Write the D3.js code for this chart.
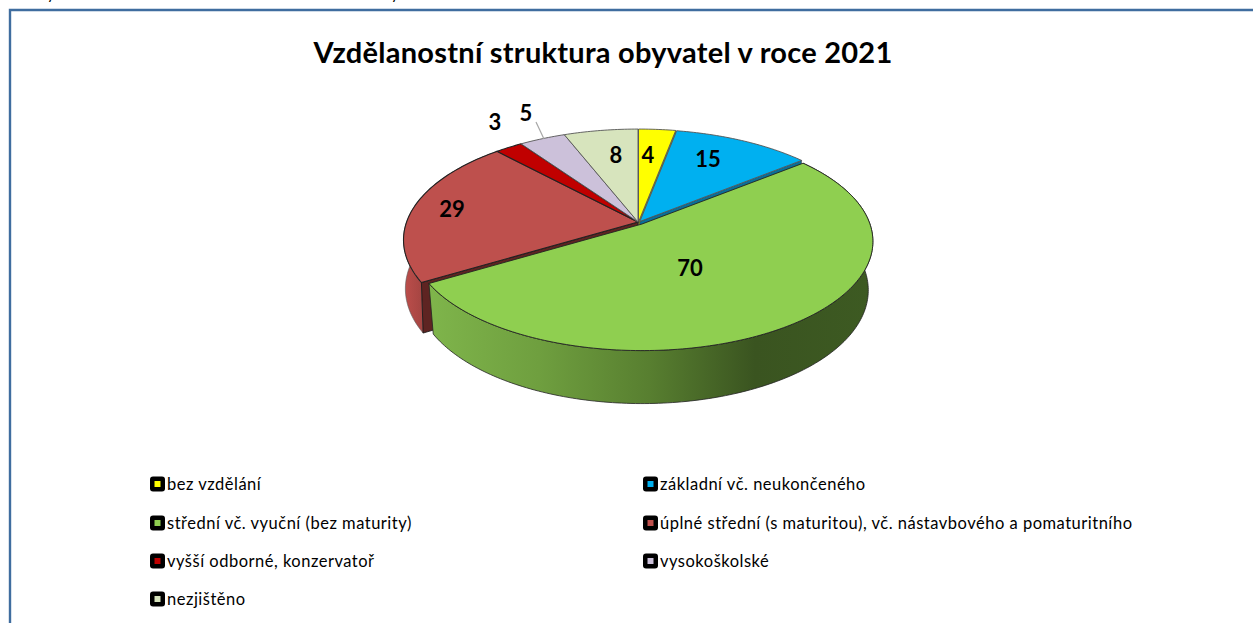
<!DOCTYPE html>
<html><head><meta charset="utf-8">
<script src="https://cdn.jsdelivr.net/npm/d3@7"></script>
<style>html,body{margin:0;padding:0;background:#fff;overflow:hidden}svg{display:block}text{font-family:Lato,sans-serif;fill:#000}</style>
</head><body><svg id="c" width="1253" height="623"></svg>
<script>
const categories = ["bez vzdělání","základní vč. neukončeného","střední vč. vyuční (bez maturity)","úplné střední (s maturitou), vč. nástavbového a pomaturitního","vyšší odborné, konzervatoř","vysokoškolské","nezjištěno"];
const values = [4,15,70,29,3,5,8];
const colors = ["#ffff00","#00b0f0","#8fcf50","#be504d","#c00000","#ccc1da","#d7e4bd"];
const wallColors = ["#a8a800","#0a6f98","#3a5420","#5e2422","#7a0000","#8a8096","#eef2e0"];
const title = "Vzdělanostní struktura obyvatel v roce 2021";

const svg = d3.select("#c");
const defs = svg.append("defs");
const W = 1253, H = 623;

// frame
svg.append("path").attr("d",`M10 ${H} V10 H${W}`).attr("fill","none").attr("stroke","#3f6d9f").attr("stroke-width",2.4);
// cropped line above the frame: only descenders remain
svg.append("text").attr("x",47).attr("y",-1).attr("font-size",15).text("y");
svg.append("text").attr("x",391).attr("y",-1).attr("font-size",15).text("y");

svg.append("text").attr("x",603).attr("y",63).attr("text-anchor","middle").attr("font-size",29).attr("letter-spacing",0.25).attr("font-weight",700).text(title);

// projection of the disc
const cx=638, cy=222, A=231.4, B=108, p=0.162;
const explode = [[0.5,0,1],[1.8,-0.5,0.99],[4,2,0.985],[0,0,1],[0,0,1],[0,0,1],[0,0,1]];
const lowScale = [0.98,0.98,0.98,0.992,0.98,0.98,0.98];
function proj(t,r,i){
  const [dx,dy,s]=explode[i];
  const u=Math.sin(t)*r*s, v=Math.cos(t)*r*s, d=1+p*v;
  return [cx+dx+A*u/d, cy+dy-B*v/d];
}
function low(t,r,i){
  const q=proj(t,r,i), v=Math.cos(t)*r;
  const cxb=cx+explode[i][0]+1;
  return [cxb+(q[0]-cxb)*lowScale[i], q[1]+48-5*v];
}
const pie = d3.pie().sort(null).startAngle(0).endAngle(2*Math.PI).value(d=>d);
const arcs = pie(values);
const line = d3.line();
const sweep=(a,b,f,i)=>{const n=Math.max(2,Math.ceil(Math.abs(b-a)*180/Math.PI));return d3.range(n+1).map(k=>f(a+(b-a)*k/n,1,i));};
const topPath = (d,i)=> "M"+proj(0,0,i)+"L"+sweep(d.startAngle,d.endAngle,proj,i).join("L")+"Z";
const wallPath = (a,b,i)=> line(sweep(a,b,proj,i).concat(sweep(b,a,low,i)))+"Z";
const radial = (t,i)=> line([proj(t,0,i),proj(t,1,i),low(t,1,i),low(t,0,i)])+"Z";

function grad(id,x1,x2,stops){
  const g=defs.append("linearGradient").attr("id",id).attr("gradientUnits","userSpaceOnUse").attr("x1",x1).attr("x2",x2).attr("y1",0).attr("y2",0);
  stops.forEach(s=>g.append("stop").attr("offset",s[0]).attr("stop-color",s[1]));
}
grad("gs",428,870,[[0,"#7fb54b"],[0.25,"#6f9f3f"],[0.5,"#587f30"],[0.74,"#3a5420"],[1,"#3d5a22"]]);
grad("rs",404,432,[[0,"#bd4e4b"],[1,"#98403d"]]);

const G=2,R=3;
svg.append("path").attr("d",wallPath(arcs[R].startAngle,arcs[R].endAngle,R)).attr("fill","url(#rs)").attr("stroke","#5a5a5a").attr("stroke-width",.6);
svg.append("path").attr("d",radial(arcs[R].startAngle,R)).attr("fill",wallColors[R]).attr("stroke","#111").attr("stroke-width",.8);
[0,1,6].forEach(i=>svg.append("path").attr("d",radial(arcs[i].endAngle,i)).attr("fill",wallColors[i]).attr("stroke","#333").attr("stroke-width",.5));

// back slices, top faces
svg.append("g").selectAll("path").data(arcs.filter((d,i)=>i!==G)).join("path")
  .attr("d",d=>topPath(d,d.index)).attr("fill",d=>colors[d.index])
  .attr("stroke",d=>d.index===3||d.index===4?"#222":"#555").attr("stroke-width",d=>d.index===3||d.index===4?1.1:.9).attr("stroke-linejoin","round");

// exploded green slice
svg.append("path").attr("d",wallPath(arcs[G].startAngle,arcs[G].endAngle,G)).attr("fill","url(#gs)").attr("stroke","#222").attr("stroke-width",.8);
svg.append("path").attr("d",topPath(arcs[G],G)).attr("fill",colors[G]).attr("stroke","#222").attr("stroke-width",.9).attr("stroke-linejoin","round");

// leader
svg.append("line").attr("x1",536).attr("y1",122).attr("x2",544).attr("y2",139).attr("stroke","#a6a6a6").attr("stroke-width",1.2);

// data labels
const labelPos=[[648,155],[708,159],[690,268],[452,209],[495,122],[526,113],[616,155]];
svg.append("g").selectAll("text").data(values).join("text")
  .attr("x",(d,i)=>labelPos[i][0]).attr("y",(d,i)=>labelPos[i][1]).attr("dy","0.35em")
  .attr("text-anchor","middle").attr("font-size",22).attr("font-weight",700).text(d=>d);

// legend
const colX=[150,643], rowY=[484,523,561,599];
const lg=svg.append("g").selectAll("g").data(categories).join("g")
  .attr("transform",(d,i)=>`translate(${colX[i%2]},${rowY[Math.floor(i/2)]})`);
lg.append("rect").attr("x",0).attr("y",-7.5).attr("width",15).attr("height",15).attr("rx",3).attr("fill","#000");
lg.append("rect").attr("x",4.5).attr("y",-3).attr("width",6).attr("height",6).attr("fill",(d,i)=>colors[i]);
lg.append("text").attr("x",17).attr("dy","0.35em").attr("font-size",16.5).attr("letter-spacing",0.5).text(d=>d);
</script></body></html>
